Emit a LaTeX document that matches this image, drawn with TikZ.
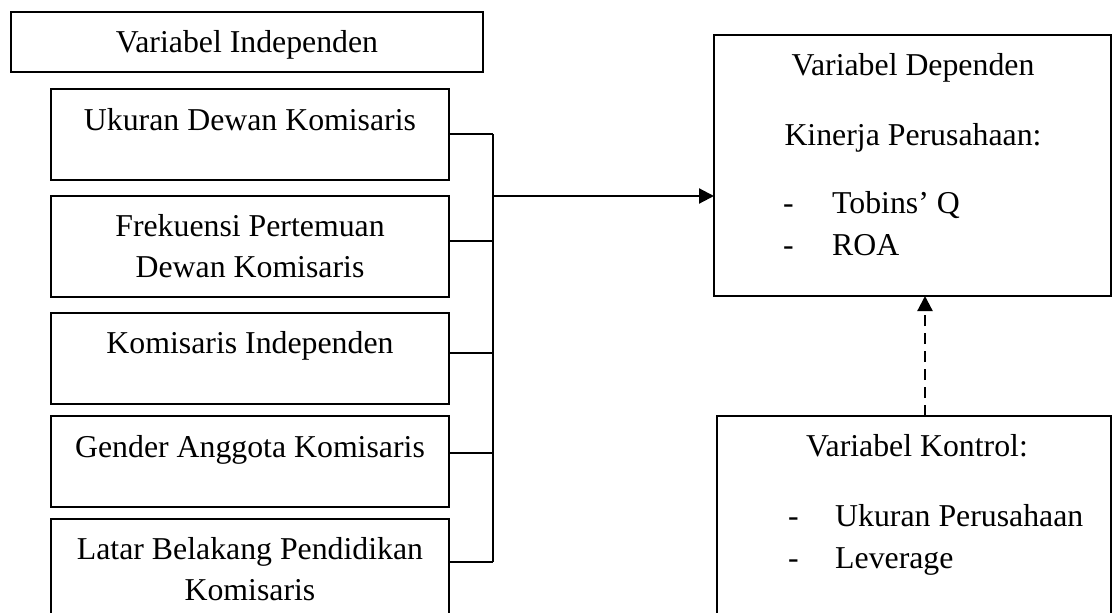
\documentclass[tikz,border=0pt]{standalone}
\usepackage{fontspec}
\setmainfont{Liberation Serif}
\usetikzlibrary{arrows.meta}
\begin{document}
\begin{tikzpicture}[x=1pt,y=-1pt,
  box/.style={draw=black, line width=2.2pt, rectangle, inner sep=0pt, outer sep=0pt},
  txt/.style={anchor=base, inner sep=0pt, font=\fontsize{31.8}{41}\selectfont},
  txtl/.style={anchor=base west, inner sep=0pt, font=\fontsize{31.8}{41}\selectfont},
  wire/.style={draw=black, line width=2.2pt},
  arr/.style={wire, -{Triangle[length=15pt,width=15pt]}},
  darr/.style={arr, dash pattern=on 11pt off 7pt}]
\clip (0,0) rectangle (1112,613);
\fill[white] (0,0) rectangle (1112,613);
% left side
\node[box, minimum width=472pt, minimum height=60pt] (ind) at (247,42) {};
\node[txt] (tind) at (247,52) {Variabel Independen};
\node[box, minimum width=398pt, minimum height=91pt] (b1) at (250,134.5) {};
\node[txt] (t1) at (250,130) {Ukuran Dewan Komisaris};
\node[box, minimum width=398pt, minimum height=101pt] (b2) at (250,246.5) {};
\node[txt] (t2a) at (250,236) {Frekuensi Pertemuan};
\node[txt] (t2b) at (250,277) {Dewan Komisaris};
\node[box, minimum width=398pt, minimum height=91pt] (b3) at (250,358.5) {};
\node[txt] (t3) at (250,353) {Komisaris Independen};
\node[box, minimum width=398pt, minimum height=91pt] (b4) at (250,461.5) {};
\node[txt] (t4) at (250,457) {Gender Anggota Komisaris};
\node[box, minimum width=398pt, minimum height=101pt] (b5) at (250,569.5) {};
\node[txt] (t5a) at (250,559) {Latar Belakang Pendidikan};
\node[txt] (t5b) at (250,600) {Komisaris};
% dependent
\node[box, minimum width=397pt, minimum height=261pt] (dep) at (912.5,165.5) {};
\node[txt] (td1) at (913,75) {Variabel Dependen};
\node[txt] (td2) at (913,145) {Kinerja Perusahaan:};
\node[txtl] (dd1) at (783,213) {-};
\node[txtl] (td3) at (832,213) {Tobins’ Q};
\node[txtl] (dd2) at (783,255) {-};
\node[txtl] (td4) at (832,255) {ROA};
% control
\node[box, minimum width=394pt, minimum height=224pt] (ctl) at (914,528) {};
\node[txt] (tc1) at (917,456) {Variabel Kontrol:};
\node[txtl] (dc1) at (788,526) {-};
\node[txtl] (tc2) at (835,526) {Ukuran Perusahaan};
\node[txtl] (dc2) at (788,568) {-};
\node[txtl] (tc3) at (835,568) {Leverage};
% connectors
\coordinate (j1) at (493,134);
\coordinate (j2) at (493,241);
\coordinate (j3) at (493,353);
\coordinate (j4) at (493,453);
\coordinate (j5) at (493,562);
\coordinate (bus) at (493,196);
\draw[wire] (j1 -| b1.east) -- (j1);
\draw[wire] (j2 -| b2.east) -- (j2);
\draw[wire] (j3 -| b3.east) -- (j3);
\draw[wire] (j4 -| b4.east) -- (j4);
\draw[wire] (j5 -| b5.east) -- (j5);
\draw[wire] (j1) -- (j5);
\draw[arr] (bus) -- (bus -| dep.west);
\coordinate (cx) at (925,0);
\draw[darr] (cx |- ctl.north) -- (cx |- dep.south);
\end{tikzpicture}
\end{document}
